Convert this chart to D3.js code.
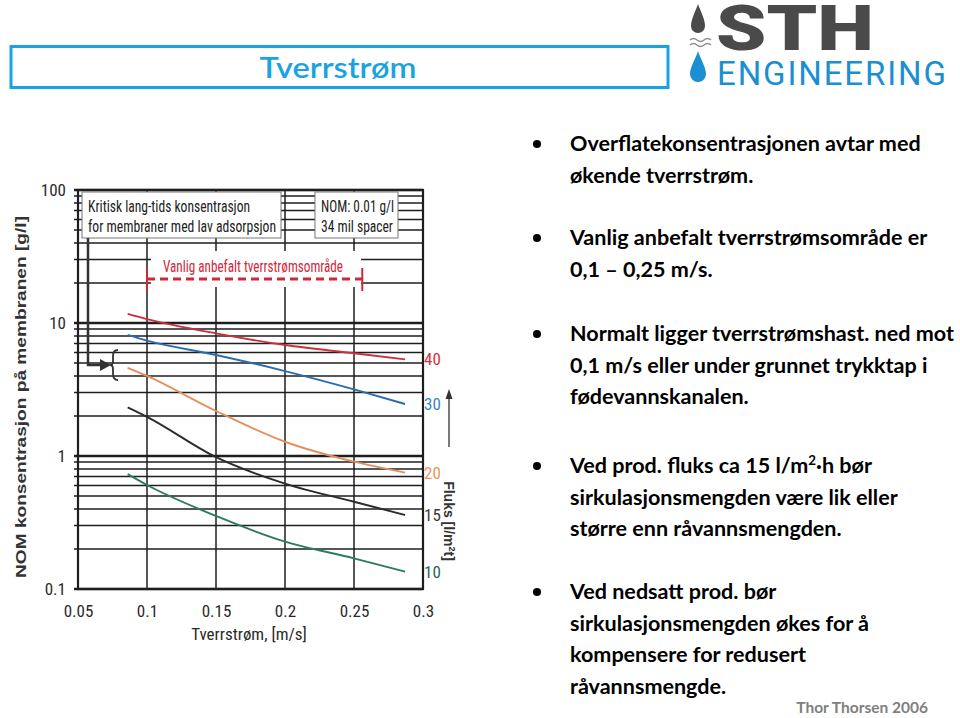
<!DOCTYPE html>
<html><head><meta charset="utf-8">
<script src="https://cdn.jsdelivr.net/npm/d3@7"></script>
<style>body{margin:0;background:#fff} svg{display:block}</style>
</head><body>
<svg id="c" width="960" height="718"></svg>
<script>
// ---------- data ----------
const xTicks = [0.05, 0.1, 0.15, 0.2, 0.25, 0.3];
const yTicks = [0.1, 1, 10, 100];
const speeds = [0.086, 0.1, 0.15, 0.2, 0.25, 0.287];
const flux40 = [11.7, 10.7, 8.36, 6.83, 5.92, 5.33];
const flux30 = [8.13, 7.36, 5.75, 4.35, 3.17, 2.46];
const flux20 = [4.61, 4.0, 2.18, 1.28, 0.906, 0.75];
const flux15 = [2.32, 1.97, 0.98, 0.62, 0.453, 0.36];
const flux10 = [0.73, 0.605, 0.354, 0.227, 0.17, 0.135];
const fluxLabels = ["40", "30", "20", "15", "10"];
const recommended = [0.1, 0.256];
const title = "Tverrstrøm";
const paragraphs = [
  ["Overflatekonsentrasjonen avtar med", "økende tverrstrøm."],
  ["Vanlig anbefalt tverrstrømsområde er", "0,1 – 0,25 m/s."],
  ["Normalt ligger tverrstrømshast. ned mot", "0,1 m/s eller under grunnet trykktap i", "fødevannskanalen."],
  ["Ved prod. fluks ca 15 l/m{2}·h bør", "sirkulasjonsmengden være lik eller", "større enn råvannsmengden."],
  ["Ved nedsatt prod. bør", "sirkulasjonsmengden økes for å", "kompensere for redusert", "råvannsmengde."]
];

// ---------- layout ----------
const svg = d3.select("#c");
const L = 78, R = 423, T = 190, B = 589;
const x = d3.scaleLinear().domain([0.05, 0.3]).range([L, R]);
const y = d3.scaleLog().domain([0.1, 100]).range([B, T]);
const narrow = "'Liberation Sans Narrow','Arial Narrow','Roboto Condensed','Liberation Sans',sans-serif";
const series = [
  {v: flux40, c: "#c9303a", lc: "#d0343e"},
  {v: flux30, c: "#2b6cb0", lc: "#3a86b8"},
  {v: flux20, c: "#e58f5e", lc: "#e8935e"},
  {v: flux15, c: "#2b2b2b", lc: "#3a3a3a"},
  {v: flux10, c: "#2d7a5c", lc: "#2f5f58"}
];

// ---------- title bar ----------
svg.append("rect").attr("x", 11).attr("y", 46.5).attr("width", 657).attr("height", 41)
  .attr("fill", "none").attr("stroke", "#1aa3e0").attr("stroke-width", 3);
svg.append("text").attr("x", 338).attr("y", 78).attr("text-anchor", "middle")
  .attr("font-family", "Lato, 'Open Sans', sans-serif").attr("font-weight", 600)
  .attr("font-size", 28).attr("fill", "#1ba3e0")
  .attr("textLength", 157).attr("lengthAdjust", "spacingAndGlyphs").text(title);

// ---------- logo ----------
const logo = svg.append("g");
logo.append("path").attr("d", "M698,4 C696,10 691,19 691,26 A7,7 0 0 0 705,26 C705,19 700,10 698,4 Z").attr("fill", "#4a4a4a");
[40, 45].forEach(yy => logo.append("path")
  .attr("d", `M690,${yy} q3.5,-3 7,0 t7,0 t7,0`).attr("fill", "none").attr("stroke", "#8a8a8a").attr("stroke-width", 1.4));
logo.append("path").attr("d", "M698,51 C696,58 690,67 690,74 A8,8 0 0 0 706,74 C706,67 700,58 698,51 Z").attr("fill", "#1b8fd1");
logo.append("text").attr("x", 716).attr("y", 50).attr("font-family", "Roboto, 'Liberation Sans', sans-serif")
  .attr("font-weight", 900).attr("font-size", 63).attr("fill", "#4a4a4a")
  .attr("textLength", 158).attr("lengthAdjust", "spacingAndGlyphs").text("STH");
logo.append("text").attr("x", 717).attr("y", 84.5).attr("font-family", "Roboto, 'Liberation Sans', sans-serif")
  .attr("font-weight", 400).attr("font-size", 33).attr("fill", "#1b8fd1")
  .attr("textLength", 229).attr("lengthAdjust", "spacing").text("ENGINEERING");

// ---------- chart grid ----------
const g = svg.append("g");
const minor = y.ticks();
g.selectAll("line.h").data(minor).join("line").attr("class", "h")
  .attr("x1", L - 4).attr("x2", R).attr("y1", d => y(d)).attr("y2", d => y(d))
  .attr("stroke", "#1e1e1e").attr("stroke-width", d => yTicks.includes(d) ? 2.4 : 1.5);
g.selectAll("line.v").data(xTicks.slice(1, -1)).join("line").attr("class", "v")
  .attr("x1", d => x(d)).attr("x2", d => x(d)).attr("y1", T).attr("y2", B)
  .attr("stroke", "#1e1e1e").attr("stroke-width", 1.5);
g.append("rect").attr("x", L).attr("y", T).attr("width", R - L).attr("height", B - T)
  .attr("fill", "none").attr("stroke", "#1e1e1e").attr("stroke-width", 2.2);

// axes (labels only)
const ax = svg.append("g").attr("transform", `translate(0,${B})`)
  .call(d3.axisBottom(x).tickValues(xTicks).tickSize(0).tickPadding(16).tickFormat(d => String(d)));
const ay = svg.append("g").attr("transform", `translate(${L},0)`)
  .call(d3.axisLeft(y).tickValues(yTicks).tickSize(0).tickPadding(12).tickFormat(d => String(d)));
[ax, ay].forEach(a => {
  a.select(".domain").remove();
  a.selectAll("text").attr("font-family", narrow).attr("font-size", 17).attr("fill", "#2a2a2a");
});

// ---------- annotation boxes ----------
const box = (x0, y0, w, h, lines, widths) => {
  svg.append("rect").attr("x", x0).attr("y", y0).attr("width", w).attr("height", h)
    .attr("fill", "#fff").attr("stroke", "#777").attr("stroke-width", 1);
  lines.forEach((t, i) => svg.append("text").attr("x", x0 + 6).attr("y", y0 + 20 + i * 20)
    .attr("font-family", narrow).attr("font-size", 16).attr("fill", "#222")
    .attr("textLength", widths[i]).attr("lengthAdjust", "spacingAndGlyphs").text(t));
};
box(82, 192, 199, 46, ["Kritisk lang-tids konsentrasjon", "for membraner med lav adsorpsjon"], [162, 188]);
box(315, 192, 83, 46, ["NOM: 0.01 g/l", "34 mil spacer"], [73, 72]);

// recommended range
svg.append("rect").attr("x", 151).attr("y", 251).attr("width", 210).attr("height", 36).attr("fill", "#fff");
svg.append("text").attr("x", 253).attr("y", 272)
  .attr("text-anchor", "middle").attr("font-family", narrow).attr("font-size", 16).attr("fill", "#d0283a")
  .attr("textLength", 180).attr("lengthAdjust", "spacingAndGlyphs")
  .text("Vanlig anbefalt tverrstrømsområde");
const ry = 279;
svg.append("line").attr("x1", x(recommended[0])).attr("x2", x(recommended[1])).attr("y1", ry).attr("y2", ry)
  .attr("stroke", "#d0283a").attr("stroke-width", 3).attr("stroke-dasharray", "8,5");
recommended.forEach(v => svg.append("line").attr("x1", x(v)).attr("x2", x(v)).attr("y1", ry - 11).attr("y2", ry + 12)
  .attr("stroke", "#d0283a").attr("stroke-width", 2));

// bracket + arrow
svg.append("path").attr("d", "M88,238 V365 H103").attr("fill", "none").attr("stroke", "#333").attr("stroke-width", 2.5);
svg.append("path").attr("d", "M100,359 L111,365 L100,371 Z").attr("fill", "#333");
svg.append("path").attr("d", "M118,350 Q113,350 113,356 V361 Q113,365 110,365 Q113,365 113,369 V374 Q113,380 118,380")
  .attr("fill", "none").attr("stroke", "#333").attr("stroke-width", 1.8);

// ---------- curves ----------
const line = d3.line().x(d => x(d[0])).y(d => y(d[1])).curve(d3.curveMonotoneX);
series.forEach(s => {
  svg.append("path").attr("d", line(speeds.map((sp, i) => [sp, s.v[i]])))
    .attr("fill", "none").attr("stroke", s.c).attr("stroke-width", 1.9);
});
series.forEach((s, i) => {
  svg.append("text").attr("x", 424).attr("y", y(s.v[s.v.length - 1])).attr("dy", "0.35em")
    .attr("font-family", narrow).attr("font-size", 17).attr("fill", s.lc).text(fluxLabels[i]);
});
// flux arrow and title
svg.append("line").attr("x1", 449).attr("x2", 449).attr("y1", 447).attr("y2", 396).attr("stroke", "#333").attr("stroke-width", 1.3);
svg.append("path").attr("d", "M449,389 L445.5,399 L452.5,399 Z").attr("fill", "#333");
const ft = svg.append("text").attr("transform", "translate(444,521) rotate(90)").attr("text-anchor", "middle")
  .attr("font-family", "'Liberation Sans',Arial,sans-serif").attr("font-weight", "bold").attr("font-size", 14).attr("fill", "#333");
ft.append("tspan").text("Fluks [l/m");
ft.append("tspan").attr("baseline-shift", "super").attr("font-size", 9).text("2");
ft.append("tspan").text("t]");

// y axis title
svg.append("text").attr("transform", "translate(26,397) rotate(-90)").attr("text-anchor", "middle")
  .attr("font-family", "'Liberation Sans',Arial,sans-serif").attr("font-weight", "bold").attr("font-size", 15).attr("fill", "#333")
  .attr("textLength", 362).attr("lengthAdjust", "spacingAndGlyphs")
  .text("NOM konsentrasjon på membranen [g/l]");
// x axis title
svg.append("text").attr("x", 249).attr("y", 640).attr("text-anchor", "middle")
  .attr("font-family", narrow).attr("font-size", 17).attr("fill", "#2a2a2a").text("Tverrstrøm, [m/s]");

// ---------- bullet text ----------
const tg = svg.append("g").attr("font-family", "Lato, 'Open Sans', sans-serif").attr("font-weight", "bold").attr("fill", "#000");
const probe = tg.append("text").attr("font-size", 20).text(paragraphs[0][0]);
const fs = 20 * 351 / probe.node().getComputedTextLength();
probe.remove();
const starts = [151, 245, 341, 473, 599];
paragraphs.forEach((p, pi) => {
  tg.append("circle").attr("cx", 537).attr("cy", starts[pi] - 7).attr("r", 4).attr("fill", "#000");
  p.forEach((ln, li) => {
    const t = tg.append("text").attr("x", 570).attr("y", starts[pi] + li * 31.5).attr("font-size", fs);
    const parts = ln.split(/\{(\d)\}/);
    parts.forEach((pt, k) => {
      if (k % 2 === 1) t.append("tspan").attr("baseline-shift", "super").attr("font-size", fs * 0.62).text(pt);
      else if (pt) t.append("tspan").text(pt);
    });
  });
});
svg.append("text").attr("x", 928).attr("y", 713).attr("text-anchor", "end")
  .attr("font-family", "Lato, 'Open Sans', sans-serif").attr("font-weight", "bold").attr("font-size", 15.5)
  .attr("fill", "#808080").text("Thor Thorsen 2006");
</script>
</body></html>
